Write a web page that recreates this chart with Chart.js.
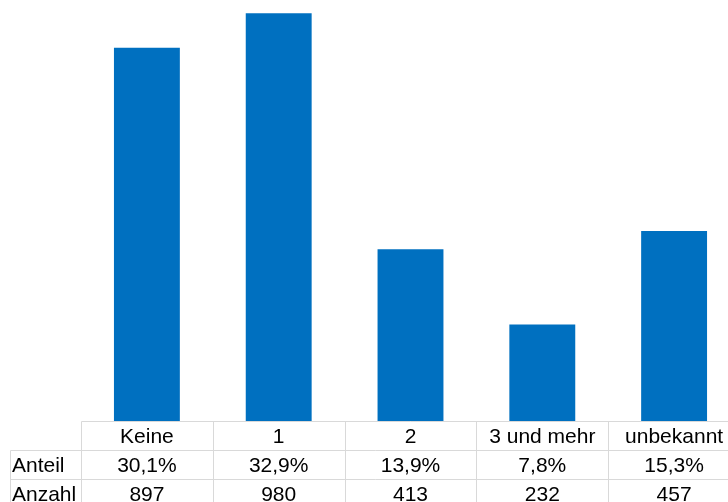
<!DOCTYPE html>
<html>
<head>
<meta charset="utf-8">
<script src="https://cdn.jsdelivr.net/npm/chart.js@4"></script>
<style>
  html, body { margin: 0; padding: 0; background: #fff; overflow: hidden; }
  #wrap { width: 728px; height: 502px; overflow: hidden; position: relative; }
  canvas { display: block; }
</style>
</head>
<body>
<div id="wrap"><canvas id="chart" width="760" height="502"></canvas></div>
<script>
// Daten
const categories = ["Keine", "1", "2", "3 und mehr", "unbekannt"];
const shares = [30.1, 32.9, 13.9, 7.8, 15.3];
const counts = [897, 980, 413, 232, 457];
const rowLabels = ["Anteil", "Anzahl"];

const FONT = '21px "Liberation Sans", Arial, sans-serif';
const GRID = "#d9d9d9";

// Datentabelle unter dem Diagramm
const dataTable = {
  id: "dataTable",
  afterDraw(chart) {
    const ctx = chart.ctx;
    const x = chart.scales.x;
    const area = chart.chartArea;
    const colW = (area.right - area.left) / categories.length;
    const rowH = 29;
    const top = area.bottom + 0.5;
    const labelLeft = 10.5;

    ctx.save();
    ctx.strokeStyle = GRID;
    ctx.lineWidth = 1;
    ctx.beginPath();
    // horizontale Linien
    ctx.moveTo(area.left + 0.5, top);
    ctx.lineTo(area.right, top);
    for (let r = 1; r <= 3; r++) {
      ctx.moveTo(labelLeft, top + r * rowH);
      ctx.lineTo(area.right, top + r * rowH);
    }
    // vertikale Linien
    ctx.moveTo(labelLeft, top + rowH);
    ctx.lineTo(labelLeft, top + 3 * rowH);
    for (let i = 0; i <= categories.length; i++) {
      const lx = Math.round(area.left + i * colW) + 0.5;
      ctx.moveTo(lx, top);
      ctx.lineTo(lx, top + 3 * rowH);
    }
    ctx.stroke();

    ctx.fillStyle = "#000";
    ctx.font = FONT;
    ctx.textBaseline = "middle";
    const rows = [
      categories,
      shares.map(v => v.toFixed(1).replace(".", ",") + "%"),
      counts.map(v => String(v)),
    ];
    rows.forEach((row, r) => {
      const cy = top + r * rowH + rowH / 2 + 1;
      ctx.textAlign = "center";
      row.forEach((txt, i) => {
        ctx.fillText(txt, x.getPixelForValue(i), cy);
      });
      if (r > 0) {
        ctx.textAlign = "left";
        ctx.fillText(rowLabels[r - 1], 12, cy);
      }
    });
    ctx.restore();
  },
};

new Chart(document.getElementById("chart"), {
  type: "bar",
  data: {
    labels: categories,
    datasets: [{
      label: "Anzahl",
      data: counts,
      backgroundColor: "#0070C0",
      borderWidth: 0,
      barPercentage: 0.5,
      categoryPercentage: 1,
    }],
  },
  options: {
    responsive: false,
    animation: false,
    layout: { padding: { left: 81, right: 20, top: 5, bottom: 81 } },
    scales: {
      x: { display: false },
      y: { display: false, min: 0, max: 1000 },
    },
    plugins: {
      legend: { display: false },
      tooltip: { enabled: false },
    },
  },
  plugins: [dataTable],
});
</script>
</body>
</html>
